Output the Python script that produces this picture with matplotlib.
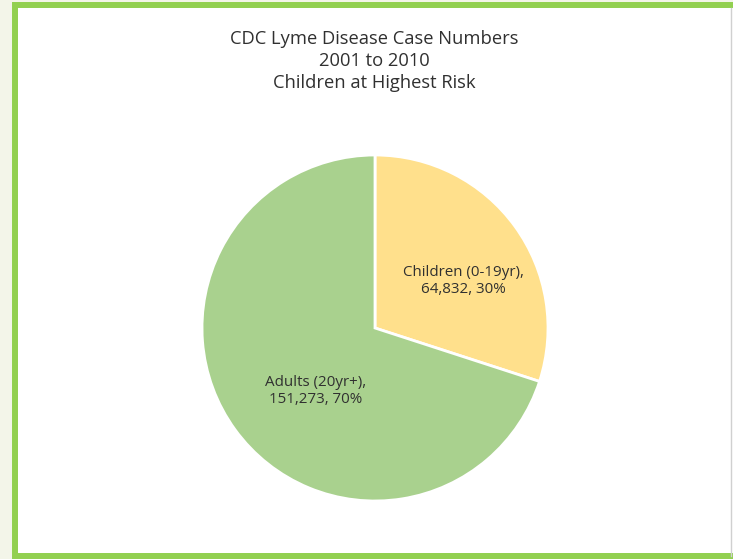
import matplotlib
matplotlib.use("Agg")
import matplotlib.pyplot as plt
from matplotlib.patches import Rectangle

W, H = 733, 559  # 图片像素尺寸

TITLE = ["CDC Lyme Disease Case Numbers", "2001 to 2010", "Children at Highest Risk"]
GROUPS = ["Children (0-19yr)", "Adults (20yr+)"]
CASES = [64832, 151273]
PERCENTS = [30, 70]
COLORS = ["#FFE08C", "#A9D18E"]

plt.rcParams["font.family"] = ["Open Sans", "DejaVu Sans"]


def px(x, y):
    # 像素坐标（左上为原点）转换为图形坐标
    return x / W, 1 - y / H


def main():
    fig = plt.figure(figsize=(W / 100, H / 100), dpi=100, facecolor="#F3F5E9")

    # 绿色边框和白色底
    fig.patches.append(Rectangle(px(15, 556), 730 / W, 551 / H, transform=fig.transFigure,
                                 facecolor="white", edgecolor="#92D050", linewidth=4.3, zorder=-5))
    fig.lines.append(plt.Line2D([731 / W, 731 / W], [px(0, 556)[1], px(0, 8)[1]],
                                transform=fig.transFigure, color="#D0D0D0", linewidth=1, zorder=-4))

    for i, line in enumerate(TITLE):
        fig.text(*px(374, 44 + 22 * i), line, ha="center", va="baseline", fontsize=13.2, color="#303030")

    cx, cy, r = 375, 328, 173
    ax = fig.add_axes([(cx - r) / W, (H - cy - r) / H, 2 * r / W, 2 * r / H])
    ax.pie(CASES, colors=COLORS, startangle=90, counterclock=False,
           wedgeprops={"edgecolor": "white", "linewidth": 2})
    ax.set_xlim(-1, 1)
    ax.set_ylim(-1, 1)
    ax.axis("off")

    label_pos = [(463, 281), (316, 391)]
    for g, c, p, (lx, ly) in zip(GROUPS, CASES, PERCENTS, label_pos):
        ax.text((lx - cx) / r, (cy - ly) / r, f"{g},\n{c:,}, {p}%", ha="center", va="center",
                fontsize=10.9, color="#303030", linespacing=1.2)

    fig.savefig("out.png", dpi=100, facecolor=fig.get_facecolor())


if __name__ == "__main__":
    main()
